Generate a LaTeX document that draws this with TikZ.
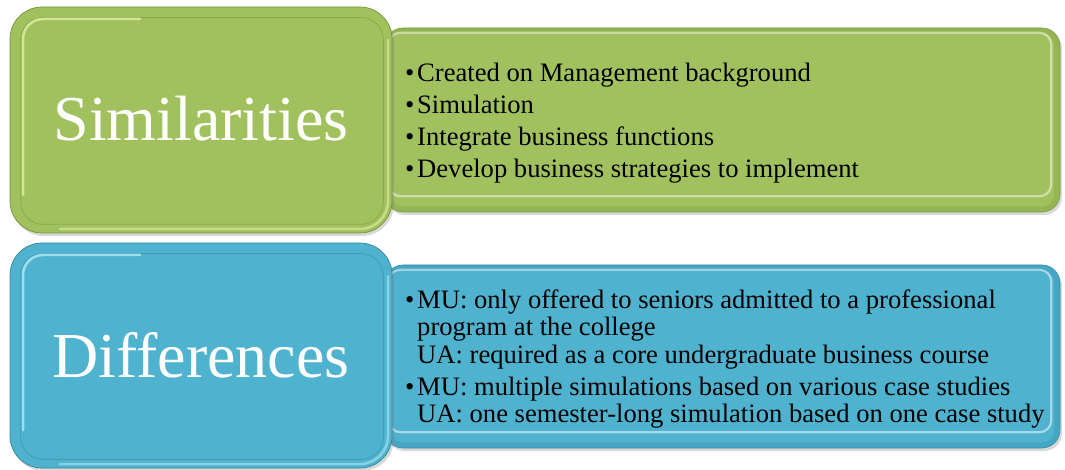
\documentclass[tikz,border=0pt]{standalone}
\usepackage{fontspec}
\setmainfont{Liberation Serif}
\usetikzlibrary{shadows}
\definecolor{grn}{HTML}{A0C15E}
\definecolor{grnrim}{HTML}{94B552}
\definecolor{grnhi}{HTML}{E4F5A6}
\definecolor{blu}{HTML}{4FB2CF}
\definecolor{blurim}{HTML}{45A6C3}
\definecolor{bluhi}{HTML}{B8EEFA}
\tikzset{
  panel/.style={rectangle, rounded corners=#1, inner sep=0pt,
    drop shadow={shadow xshift=2pt, shadow yshift=-3pt, opacity=0.3}},
  shine/.style={draw=white, line width=2.2pt, opacity=0.5},
  bevel/.style={draw=black, line width=0.8pt, opacity=0.12},
  hilite/.style={line width=2.5pt, opacity=0.75, line cap=round},
  biglabel/.style={text=white, font=\fontsize{64}{70}\selectfont, inner sep=0pt},
  listtext/.style={inner sep=0pt, anchor=base west, text=black}
}
\newcommand{\bitem}[1]{\hangindent=12pt\hangafter=1\noindent\makebox[12pt][l]{•}#1\par}
\begin{document}
\begin{tikzpicture}[x=1pt,y=-1pt]
\useasboundingbox (0,0) rectangle (1065,470);
% ---------- right boxes (behind) ----------
\node[panel=18pt, fill=grnrim, draw=grnrim!85!black, line width=0.6pt, minimum width=675pt, minimum height=184pt] (simbox) at (722.5,120) {};
\fill[grn, rounded corners=12pt] ([shift={(6pt,-6pt)}]simbox.north west) rectangle ([shift={(-6pt,6pt)}]simbox.south east);
\draw[shine, rounded corners=12pt] ([shift={(4pt,-5pt)}]simbox.north west) rectangle ([shift={(-9pt,16pt)}]simbox.south east);

\node[panel=18pt, fill=blurim, draw=blurim!85!black, line width=0.6pt, minimum width=675pt, minimum height=183pt] (difbox) at (722.5,356.5) {};
\fill[blu, rounded corners=12pt] ([shift={(6pt,-6pt)}]difbox.north west) rectangle ([shift={(-6pt,6pt)}]difbox.south east);
\draw[shine, rounded corners=12pt] ([shift={(4pt,-5pt)}]difbox.north west) rectangle ([shift={(-9pt,16pt)}]difbox.south east);

% ---------- left boxes ----------
\node[panel=32pt, fill=grn, draw=grnrim!80!black, line width=0.7pt, minimum width=382pt, minimum height=226pt] (simlab) at (201,120) {};
\draw[bevel, rounded corners=22pt] ([shift={(11pt,-11pt)}]simlab.north west) rectangle ([shift={(-9pt,9pt)}]simlab.south east);
\draw[hilite, grnhi, rounded corners=20pt] (23,195) -- (23,19) -- (140,19);
\draw[hilite, grnhi, opacity=0.55, rounded corners=28pt] (388,40) -- (388,229) -- (60,229);

\node[biglabel] (simtxt) at (201,119) {Similarities};

\node[panel=32pt, fill=blu, draw=blurim!80!black, line width=0.7pt, minimum width=382pt, minimum height=225pt] (diflab) at (201,355.5) {};
\draw[bevel, rounded corners=22pt] ([shift={(11pt,-11pt)}]diflab.north west) rectangle ([shift={(-9pt,9pt)}]diflab.south east);
\draw[hilite, bluhi, rounded corners=20pt] (23,430) -- (23,255) -- (140,255);
\draw[hilite, bluhi, opacity=0.55, rounded corners=28pt] (388,276) -- (388,464) -- (60,464);
\node[biglabel] (diftxt) at (201,355) {Differences};

% ---------- lists ----------
\node[listtext] (simlist) at (405,81.7) {\begin{minipage}[t]{650pt}\fontsize{26.6}{27.5}\selectfont\setlength{\parskip}{4.5pt}\raggedright
\bitem{Created on Management background}
\bitem{Simulation}
\bitem{Integrate business functions}
\bitem{Develop business strategies to implement}
\end{minipage}};

\node[listtext] (diflist) at (405,308) {\begin{minipage}[t]{650pt}\fontsize{26.6}{27.5}\selectfont\setlength{\parskip}{4.5pt}\raggedright
\bitem{MU: only offered to seniors admitted to a professional\newline program at the college\newline UA: required as a core undergraduate business course}
\bitem{MU: multiple simulations based on various case studies\newline UA: one semester-long simulation based on one case study}
\end{minipage}};
\end{tikzpicture}
\end{document}
